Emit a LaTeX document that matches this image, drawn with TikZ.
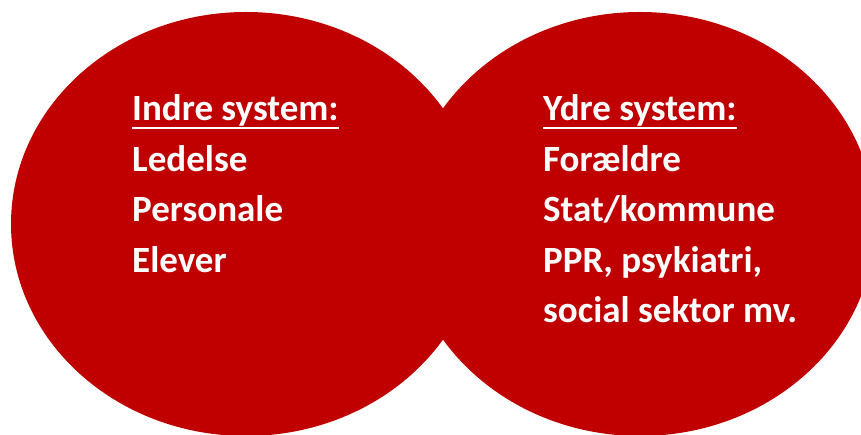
\documentclass[tikz,border=0pt]{standalone}
\usepackage{fontspec}
\setmainfont{Carlito}
\definecolor{vennred}{RGB}{192,0,0}
\begin{document}
\begin{tikzpicture}[x=1pt,y=-1pt,
  setbubble/.style={fill=vennred},
  itemtext/.style={anchor=base west,inner sep=0pt,text=white,font=\fontsize{37}{44}\selectfont\bfseries},
  ruleline/.style={draw=white,line width=2.4pt}]
\useasboundingbox (0,0) rectangle (861,435);
\clip (0,0) rectangle (861,435);
\fill[setbubble] (246,224) ellipse [x radius=235pt, y radius=212pt];
\fill[setbubble] (640,224) ellipse [x radius=235pt, y radius=212pt];
% left column
\node[itemtext] (lh) at (132,121) {Indre system:};
\node[itemtext] (l1) at (132,172) {Ledelse};
\node[itemtext] (l2) at (132,222) {Personale};
\node[itemtext] (l3) at (132,273) {Elever};
\draw[ruleline] ([yshift=-7pt]lh.base west) -- ([yshift=-7pt]lh.base east);
% right column
\node[itemtext] (rh) at (543,121) {Ydre system:};
\node[itemtext] (r1) at (543,172) {Forældre};
\node[itemtext] (r2) at (543,222) {Stat/kommune};
\node[itemtext] (r3) at (543,273) {PPR, psykiatri,};
\node[itemtext] (r4) at (543,322) {social sektor mv.};
\draw[ruleline] ([yshift=-7pt]rh.base west) -- ([yshift=-7pt]rh.base east);
\end{tikzpicture}
\end{document}
